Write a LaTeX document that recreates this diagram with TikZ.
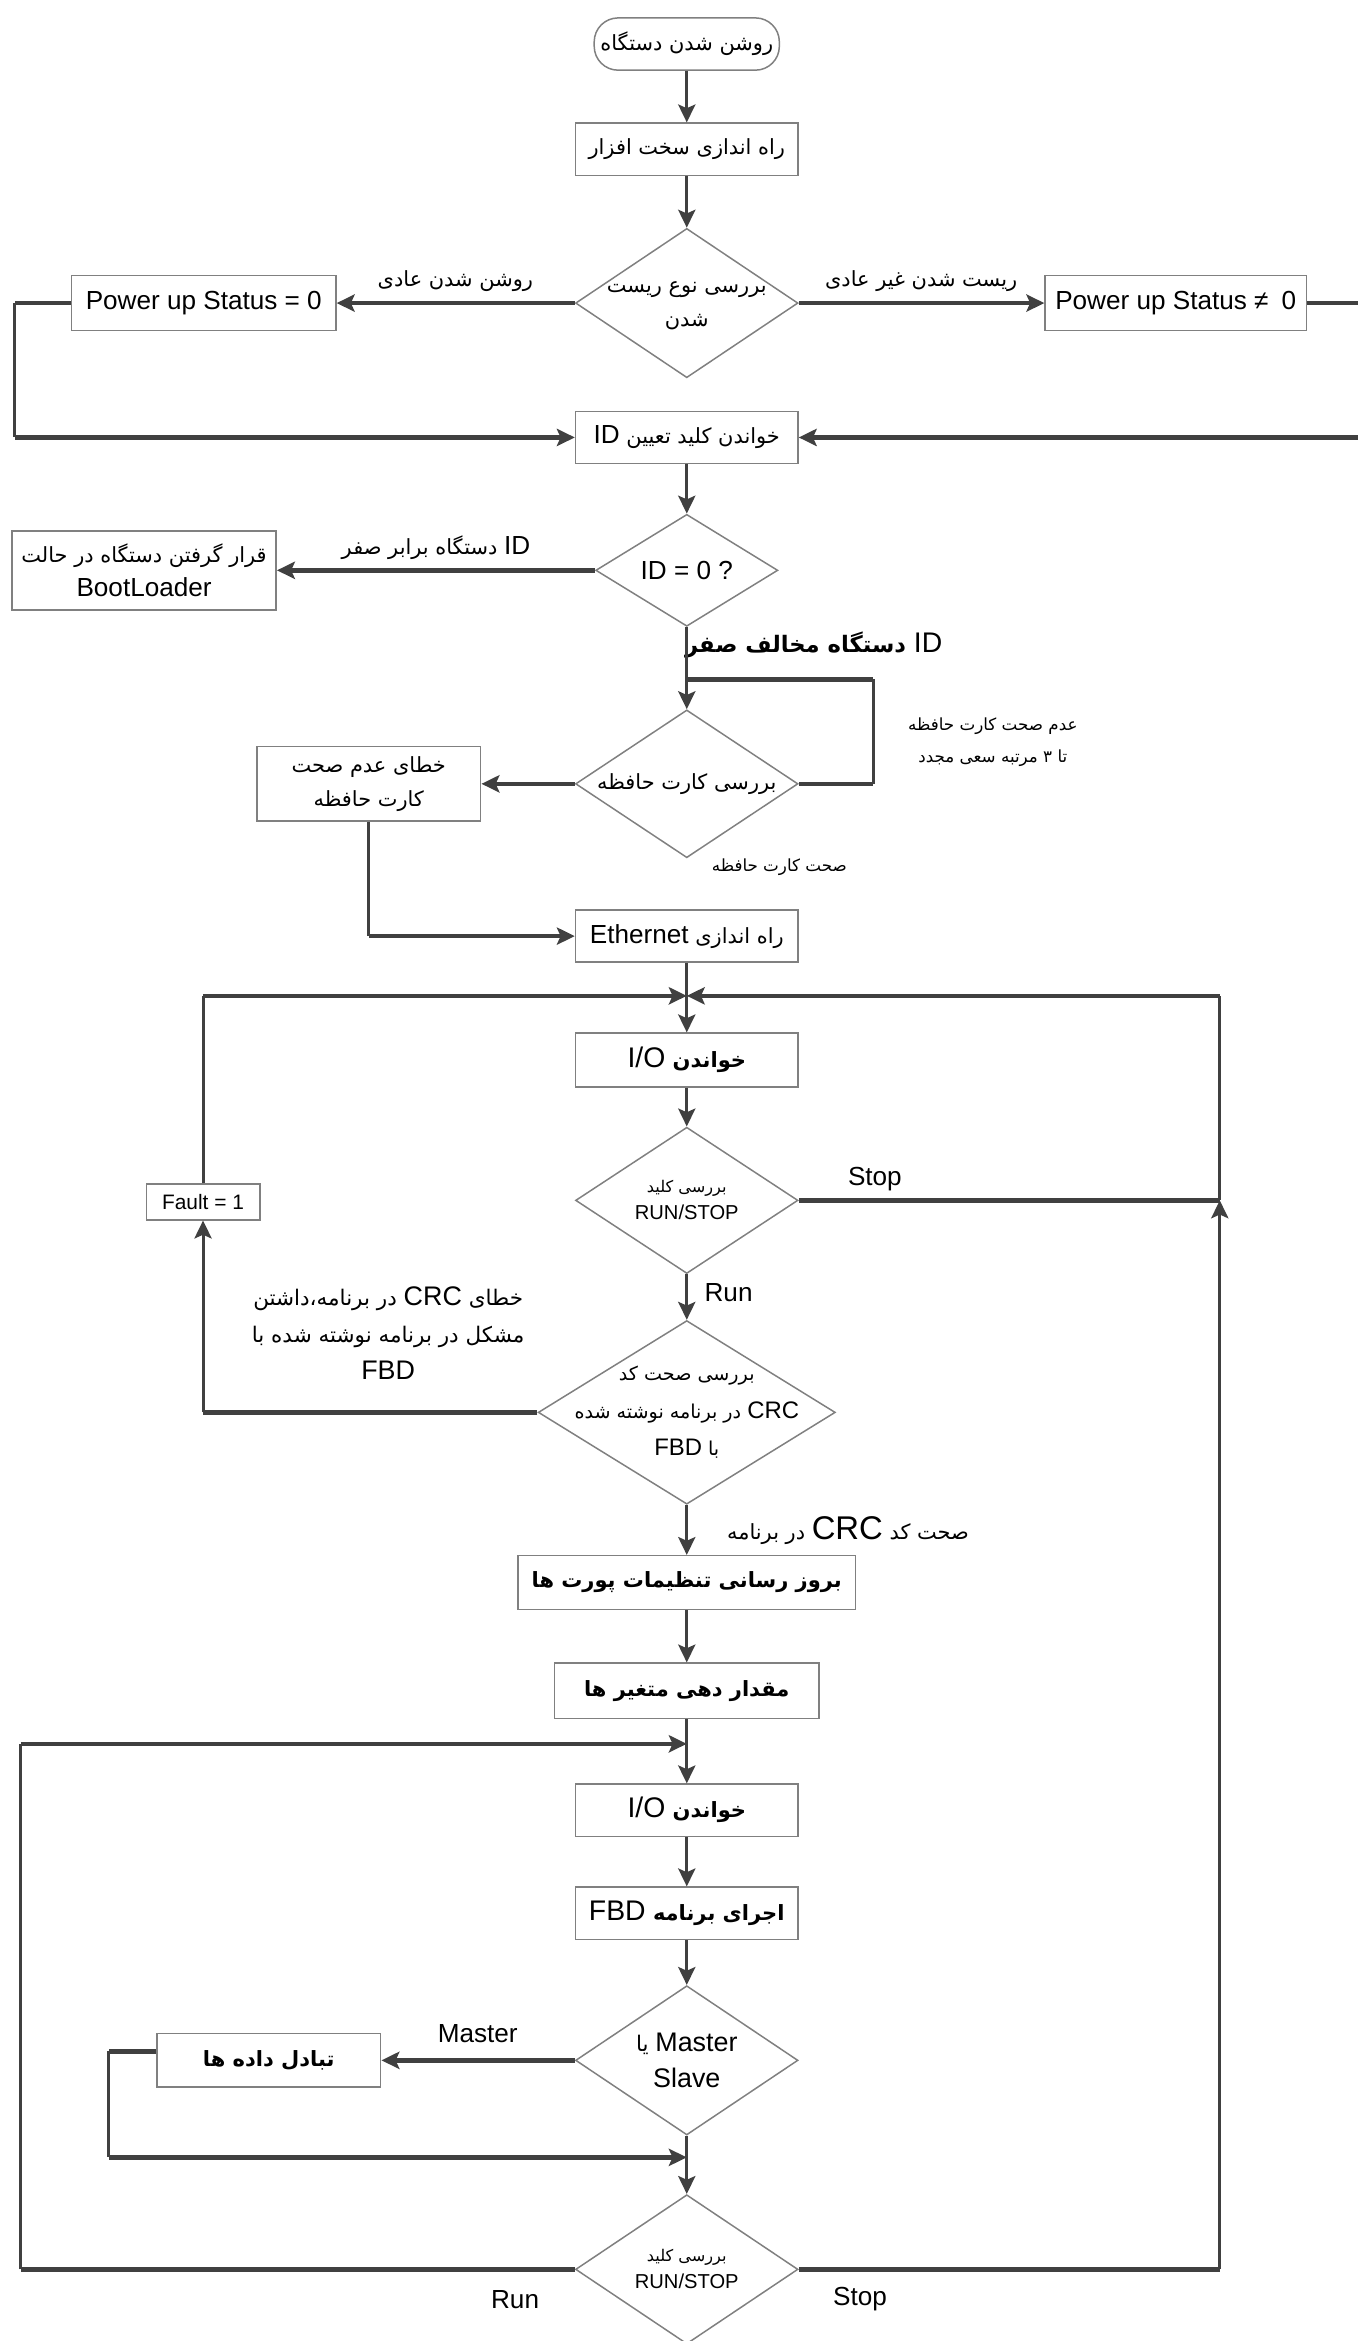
\documentclass[tikz,border=0pt]{standalone}
\usepackage{fontspec}
\setmainfont{Liberation Sans}
\newfontfamily\fafont[Script=Arabic,Scale=0.8]{DejaVu Sans}
\newfontfamily\fastrong[Script=Arabic,Scale=0.74]{DejaVu Sans}
\TeXXeTstate=1
\usetikzlibrary{arrows.meta,shapes.geometric}
\definecolor{ink}{HTML}{404040}
\definecolor{rim}{HTML}{808080}
\newcommand{\fatext}[1]{{\fafont\beginR #1\endR}}
\newcommand{\fabold}[1]{{\fastrong\bfseries\beginR #1\endR}}
\newcommand{\entext}[1]{\beginL{\rmfamily\mdseries #1}\endL{}}

\begin{document}
\begin{tikzpicture}[x=1pt,y=-1pt,>={Stealth[length=12pt,width=11.5pt,inset=2.5pt]},
  every node/.style={font=\fontsize{17.5}{23}\selectfont},
  box/.style={draw=rim,line width=1pt,minimum width=149pt,minimum height=35pt,inner sep=1pt,align=center},
  bigbox/.style={box,font=\fontsize{19}{24}\selectfont},
  dia/.style={draw=rim,line width=1pt,diamond,minimum width=149pt,minimum height=100pt,inner sep=0pt},
  term/.style={draw=rim,line width=1pt,rounded corners=16pt,minimum width=124pt,minimum height=35pt,inner sep=1pt},
  lbl/.style={inner sep=0pt,align=center},
  line/.style={draw=ink,line width=2pt},
  bar/.style={draw=ink,line width=3pt}]
\useasboundingbox (0,0) rectangle (909,1568);

\node[term] at (460,29.5) (start) {\fatext{روشن شدن دستگاه}};
\node[box] at (460,100) (hw) {\fatext{راه اندازی سخت افزار}};
\node[dia] at (460,203) (reset) {};
\node[lbl] at (460,205) (resettext) {\fatext{بررسی نوع ریست}\\\fatext{شدن}};
\node[box,minimum width=177pt,minimum height=37pt] at (136.5,203) (pzero) {Power up Status = 0};
\node[box,minimum width=175pt,minimum height=37pt] at (787.5,203) (pnot) {Power up Status ≠\enspace 0};
\node[box] at (460,293) (readid) {\fatext{خواندن کلید تعیین \entext{ID}}};
\node[dia,minimum width=122pt,minimum height=75pt] at (460,382) (idzero) {};
\node[lbl] at (idzero) (idzerotext) {ID = 0 ?};
\node[box,minimum width=177pt,minimum height=53pt] at (96.5,382) (boot) {\fatext{قرار گرفتن دستگاه در حالت}\\BootLoader};
\node[dia,minimum height=99pt] at (460,525) (card) {};
\node[lbl] at (card) (cardtext) {\fatext{بررسی کارت حافظه}};
\node[box,minimum width=150pt,minimum height=50pt] at (247,525) (carderr) {\fatext{خطای عدم صحت}\\\fatext{کارت حافظه}};
\node[box] at (460,627) (eth) {\fatext{راه اندازی \entext{Ethernet}}};
\coordinate (j1) at (460,667);
\node[bigbox,minimum height=36pt] at (460,710) (readio) {\fabold{خواندن \entext{I/O}}};
\node[dia,minimum height=98pt] at (460,804) (key) {};
\node[lbl,font=\fontsize{13.5}{18}\selectfont] at (key) (keytext) {\fatext{بررسی کلید}\\RUN/STOP};
\node[box,minimum width=76pt,minimum height=24pt,font=\fontsize{14}{16}\selectfont] at (136,805) (fault) {Fault = 1};
\node[dia,minimum width=199pt,minimum height=123pt] at (460,946) (crc) {};
\node[lbl,font=\fontsize{16}{25}\selectfont] at (crc) (crctext) {\fatext{بررسی صحت کد}\\\fatext{\entext{CRC} در برنامه نوشته شده}\\\fatext{با \entext{FBD}}};
\node[bigbox,minimum width=226pt,minimum height=36pt] at (460,1060) (ports) {\fabold{بروز رسانی تنظیمات پورت ها}};
\node[bigbox,minimum width=177pt,minimum height=37pt] at (460,1132.5) (vars) {\fabold{مقدار دهی متغیر ها}};
\coordinate (j2) at (460,1168);
\node[bigbox] at (460,1212.5) (readio2) {\fabold{خواندن \entext{I/O}}};
\node[bigbox] at (460,1281.5) (runfbd) {\fabold{اجرای برنامه \entext{FBD}}};
\node[dia] at (460,1380) (role) {};
\node[lbl,font=\fontsize{18}{24}\selectfont] at (role) (roletext) {\fatext{\entext{Master} یا}\\Slave};
\node[bigbox,minimum width=150pt,minimum height=36pt] at (180,1380) (xchg) {\fabold{تبادل داده ها}};
\coordinate (j3) at (460,1445);
\node[dia] at (460,1520) (key2) {};
\node[lbl,font=\fontsize{13.5}{18}\selectfont] at (key2) (key2text) {\fatext{بررسی کلید}\\RUN/STOP};

\node[lbl] at (305,188) (normal) {\fatext{روشن شدن عادی}};
\node[lbl] at (617,188) (abnormal) {\fatext{ریست شدن غیر عادی}};
\node[lbl] at (292,367) (idz) {\fatext{\entext{ID} دستگاه برابر صفر}};
\node[lbl,font=\fontsize{19}{24}\selectfont\bfseries] at (545,432) (idnz) {\fatext{\entext{ID} دستگاه مخالف صفر}};
\node[lbl,font=\fontsize{14}{21}\selectfont] at (665,497) (retry) {\fatext{عدم صحت کارت حافظه}\\\fatext{تا ۳ مرتبه سعی مجدد}};
\node[lbl,font=\fontsize{14}{18}\selectfont] at (522,581) (cardok) {\fatext{صحت کارت حافظه}};
\node[lbl] at (586,790) (stop1) {Stop};
\node[lbl] at (488,866) (run1) {Run};
\node[lbl,font=\fontsize{18}{25}\selectfont] at (260,893) (crcbad) {\fatext{خطای \entext{CRC} در برنامه،داشتن}\\\fatext{مشکل در برنامه نوشته شده با}\\FBD};
\node[lbl,font=\fontsize{17.5}{23}\selectfont] at (568,1025) (crcok) {\fatext{صحت کد \entext{\fontsize{22}{24}\selectfont CRC} در برنامه}};
\node[lbl] at (320,1362) (master) {Master};
\node[lbl] at (345,1540) (run2) {Run};
\node[lbl] at (576,1540) (stop2) {Stop};

\coordinate (l1) at (10,203);
\coordinate (l2) at (10,293);
\coordinate (p1) at (913,203);
\coordinate (p2) at (913,293);
\coordinate (r1) at (585,525);
\coordinate (r2) at (585,455);
\coordinate (r3) at (460,455);
\coordinate (e1) at (247,627);
\coordinate (f1) at (136,946);
\coordinate (f2) at (136,667);
\coordinate (s1) at (817,804);
\coordinate (s2) at (817,667);
\coordinate (s3) at (817,1520);
\coordinate (b1) at (14,1520);
\coordinate (b2) at (14,1168);
\coordinate (x1) at (73,1374);
\coordinate (x2) at (73,1445);

\draw[line,->] (start) -- (hw);
\draw[line,->] (hw) -- (reset);
\draw[bar,->] (reset) -- (pzero);
\draw[bar,->] (reset) -- (pnot);
\draw[bar] (pzero) -- (l1);
\draw[line] (l1) -- (l2);
\draw[bar,->] (l2) -- (readid);
\draw[bar] (pnot) -- (p1);
\draw[line] (p1) -- (p2);
\draw[bar,->] (p2) -- (readid);
\draw[line,->] (readid) -- (idzero);
\draw[bar,->] (idzero) -- (boot);
\draw[line,->] (idzero) -- (card);
\draw[bar] (card) -- (r1);
\draw[line] (r1) -- (r2);
\draw[bar] (r2) -- (r3);
\draw[bar,->] (card) -- (carderr);
\draw[line] (carderr) -- (e1);
\draw[bar,->] (e1) -- (eth);
\draw[line,->] (eth) -- (readio);
\draw[line,->] (readio) -- (key);
\draw[line,->] (key) -- (crc);
\draw[bar] (key) -- (s1);
\draw[line,->] (s3) -- (s1);
\draw[line] (s1) -- (s2);
\draw[bar,->] (s2) -- (j1);
\draw[bar] (crc) -- (f1);
\draw[line,->] (f1) -- (fault);
\draw[line] (fault) -- (f2);
\draw[bar,->] (f2) -- (j1);
\draw[line,->] (crc) -- (ports);
\draw[line,->] (ports) -- (vars);
\draw[line,->] (vars) -- (readio2);
\draw[line,->] (readio2) -- (runfbd);
\draw[line,->] (runfbd) -- (role);
\draw[bar,->] (role) -- (xchg);
\draw[bar] (xchg.west |- x1) -- (x1);
\draw[line] (x1) -- (x2);
\draw[bar,->] (x2) -- (j3);
\draw[line,->] (role) -- (key2);
\draw[bar] (key2) -- (b1);
\draw[line] (b1) -- (b2);
\draw[bar,->] (b2) -- (j2);
\draw[bar] (key2) -- (s3);
\end{tikzpicture}
\end{document}
